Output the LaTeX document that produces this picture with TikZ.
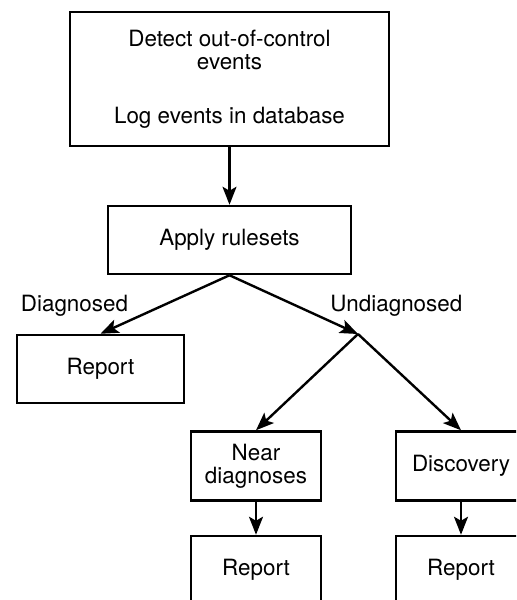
\documentclass[tikz,border=0pt]{standalone}
\usepackage{fontspec}
\setmainfont{TeX Gyre Heros}
\usetikzlibrary{arrows.meta}

\begin{document}
\begin{tikzpicture}[x=0.5pt, y=-0.5pt,
    font=\fontsize{11.2}{11.5}\selectfont,
    box/.style={draw, line width=1.25pt, align=center, inner sep=0pt},
    flow/.style={-{Stealth[length=9pt, width=7pt, inset=2pt]}, line width=1.2pt}]

  % ── Page frame ────────────────────────────────────────────────────────────
  \useasboundingbox (0, 0) rectangle (516, 600);
  \clip (0, 0) rectangle (516, 600);

  % ── Boxes ─────────────────────────────────────────────────────────────────
  \node[box, minimum width=159.5pt, minimum height=67pt] (detect) at (229.5, 79)
    {Detect out-of-control\\events\\[15.5pt]Log events in database};
  \node[box, minimum width=121.5pt, minimum height=34pt] (apply) at (229.5, 240)
    {Apply rulesets};
  \node[box, minimum width=83.5pt, minimum height=34pt] (diagrep) at (100.5, 369)
    {Report};
  \node[box, minimum width=65pt, minimum height=34.5pt] (near) at (256, 466)
    {Near\\diagnoses};
  \node[box, minimum width=65pt, minimum height=34.5pt] (disc) at (461, 466)
    {Discovery};
  \node[box, minimum width=65pt, minimum height=34pt] (nearrep) at (256, 570)
    {Report};
  \node[box, minimum width=65pt, minimum height=34pt] (discrep) at (461, 570)
    {Report};

  % ── Branch labels ─────────────────────────────────────────────────────────
  \node[anchor=base west, inner sep=0pt] (diaglbl) at (20.5, 311) {Diagnosed};
  \node[anchor=base west, inner sep=0pt] (undiaglbl) at (330, 311) {Undiagnosed};

  % ── Connectors ────────────────────────────────────────────────────────────
  \coordinate (split) at (358, 334);
  \draw[flow] (detect.south) -- (apply.north);
  \draw[flow] (apply.south) -- (diagrep.north);
  \draw[flow] (apply.south) -- (split);
  \draw[flow] (split) -- (near.north);
  \draw[flow] (split) -- (disc.north);
  \draw[flow] (near.south) -- (nearrep.north);
  \draw[flow] (disc.south) -- (discrep.north);

\end{tikzpicture}
\end{document}
